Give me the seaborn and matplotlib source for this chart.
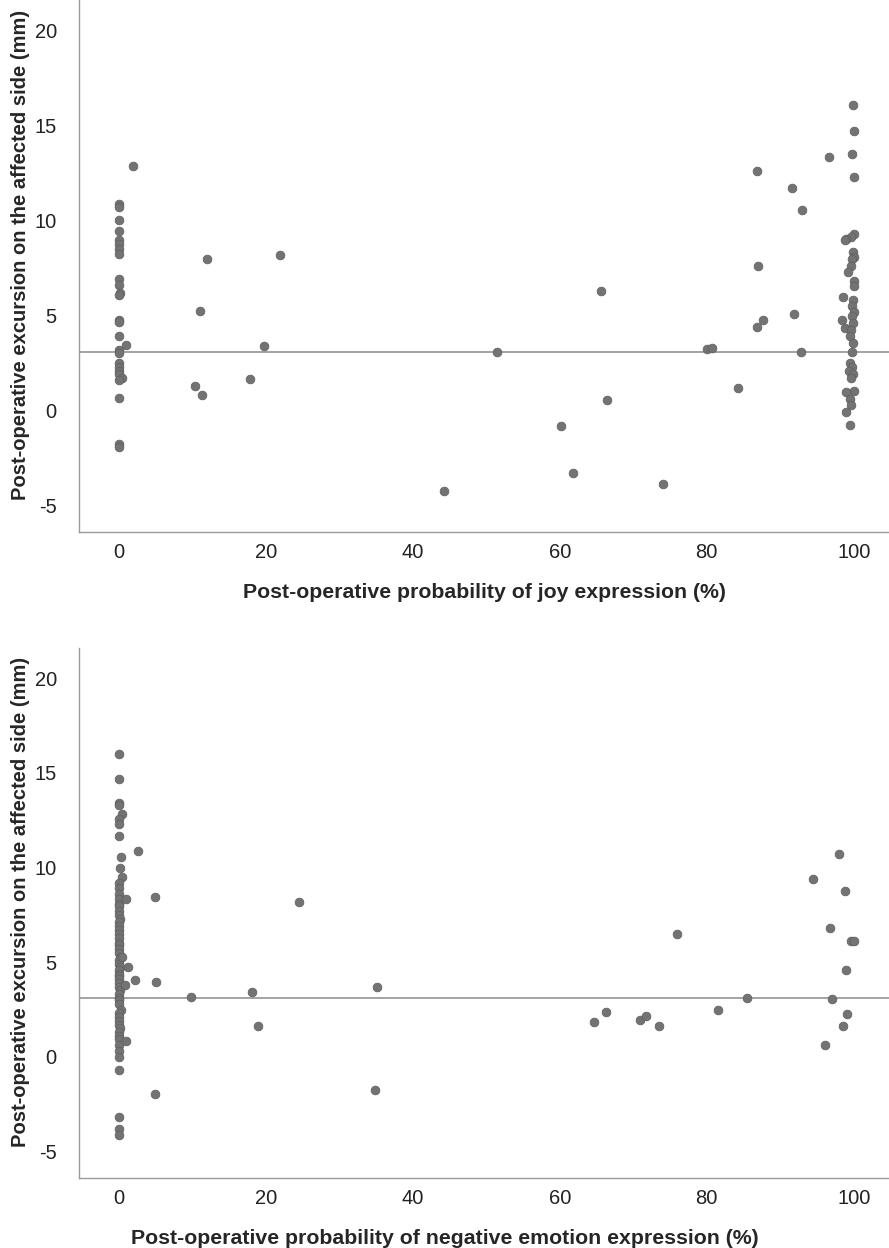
import pandas as pd
import matplotlib
matplotlib.use("Agg")
import matplotlib.pyplot as plt
import seaborn as sns

sns.set_style("white")
plt.rcParams['font.family'] = ['Liberation Sans', 'DejaVu Sans']
plt.rcParams['axes.unicode_minus'] = False

# Top panel: joy expression (%) vs excursion (mm)
joy_x = [0, 0, 0, 0, 0, 0, 0, 0, 0, 0, 0.2, 0, 0, 0, 0, 1.0, 0, 0, 0, 0, 0, 0, 0.5, 0, 0, 0.1, 0, 2.0,
         12.0, 11.0, 10.4, 11.3, 17.9, 19.7, 22.0, 44.3, 51.4, 65.6, 66.5, 60.2, 61.8, 74.1,
         80.0, 80.7, 84.2, 86.9, 87.0, 86.8, 87.7, 91.6, 93.0, 91.9, 92.8, 96.6,
         99.9, 100, 99.7, 100, 100, 99.6, 99.0, 98.8, 99.9, 100, 99.8, 99.6, 99.2, 100, 100,
         98.5, 99.9, 99.8, 100, 99.7, 98.4, 99.9, 98.8, 99.6, 99.5, 99.9, 99.8, 99.5, 99.7,
         99.4, 99.9, 99.6, 100, 98.9, 99.5, 99.6, 98.9, 99.5]
joy_y = [10.85, 10.7, 10.0, 9.45, 8.95, 8.75, 8.5, 8.25, 6.9, 6.6, 6.2, 6.05, 4.75, 4.65, 3.9, 3.45,
         3.2, 3.0, 2.5, 2.3, 2.1, 1.9, 1.7, 1.6, 0.65, -1.75, -1.95, 12.85,
         7.95, 5.25, 1.3, 0.8, 1.65, 3.4, 8.2, -4.25, 3.1, 6.3, 0.55, -0.8, -3.3, -3.85,
         3.25, 3.3, 1.2, 12.6, 7.6, 4.4, 4.75, 11.7, 10.55, 5.05, 3.1, 13.35,
         16.05, 14.7, 13.5, 12.3, 9.3, 9.15, 9.0, 8.95, 8.35, 8.1, 7.95, 7.6, 7.3, 6.8, 6.55,
         5.95, 5.8, 5.5, 5.2, 4.95, 4.75, 4.6, 4.35, 4.25, 3.9, 3.55, 3.05, 2.5, 2.3,
         2.1, 1.9, 1.7, 1.0, 0.95, 0.6, 0.3, -0.1, -0.75]

# Bottom panel: negative emotion expression (%) vs excursion (mm)
neg_x = [0, 0, 0, 0, 0.4, 0, 0, 0, 0.3, 0.2, 0.5, 0, 0, 0, 0.1, 0, 0, 0, 0, 0.2, 0, 0, 0, 0, 0.1,
         0, 0, 0, 0, 0.3, 0, 0, 0.2, 0, 0, 0.1, 0, 0, 0, 0.2, 0, 0, 0, 0, 0.3, 0, 0.1, 0, 0, 0.2,
         0, 0, 0, 0.1, 0, 0, 0, 0, 0, 0,
         2.6, 4.9, 0.95, 0.5, 1.3, 2.2, 5.1, 0.85, 9.9, 1.0, 5.0, 18.1, 19.0, 24.5, 35.1, 34.9,
         75.9, 85.5, 81.5, 66.3, 64.7, 70.9, 71.8, 73.5,
         98.0, 94.5, 98.8, 96.8, 99.6, 100.1, 98.9, 97.0, 99.1, 98.5, 96.1]
neg_y = [15.98, 14.67, 13.42, 13.3, 12.83, 12.55, 12.32, 11.68, 10.54, 9.96, 9.49, 9.2, 8.9, 8.6, 8.35,
         8.1, 7.95, 7.7, 7.5, 7.3, 7.1, 6.9, 6.7, 6.5, 6.3, 6.0, 5.9, 5.7, 5.5, 5.3, 5.1, 4.9, 4.75,
         4.6, 4.4, 4.25, 4.1, 3.9, 3.7, 3.55, 3.3, 3.1, 3.0, 2.8, 2.5, 2.3, 2.1, 1.9, 1.7, 1.5,
         1.3, 1.1, 0.95, 0.6, 0.3, 0.0, -0.7, -3.2, -3.8, -4.15,
         10.85, 8.45, 8.35, 5.3, 4.75, 4.05, 3.95, 3.8, 3.15, 0.85, -1.95, 3.45, 1.65, 8.2, 3.7, -1.75,
         6.5, 3.1, 2.45, 2.35, 1.85, 1.95, 2.15, 1.65,
         10.7, 9.4, 8.75, 6.8, 6.1, 6.1, 4.6, 3.05, 2.25, 1.65, 0.6]

ref_line = 3.1
y_label = "Post-operative excursion on the affected side (mm)"
x_labels = ["Post-operative probability of joy expression (%)",
            "Post-operative probability of negative emotion expression (%)"]

joy = pd.DataFrame({'x': joy_x, 'y': joy_y})
neg = pd.DataFrame({'x': neg_x, 'y': neg_y})

fig = plt.figure(figsize=(8.89, 12.48), dpi=100)
ax1 = fig.add_axes([0.0889, 0.5737, 0.9111, 0.4263])
ax2 = fig.add_axes([0.0889, 0.0561, 0.9111, 0.4247])

# bottom x label sits a bit left of centre in the original
label_x = [0.5, 0.452]

for ax, df, xl, lx in [(ax1, joy, x_labels[0], label_x[0]), (ax2, neg, x_labels[1], label_x[1])]:
    ax.axhline(ref_line, color='#8a8a8a', lw=1.1, zorder=1)
    sns.scatterplot(data=df, x='x', y='y', ax=ax, color='#737373', edgecolor='#5e5e5e',
                    linewidth=0.5, s=40, zorder=3, legend=False)
    ax.set_xlim(-5.4, 104.8)
    ax.set_ylim(-6.4, 21.6)
    ax.set_xticks([0, 20, 40, 60, 80, 100])
    ax.set_yticks([-5, 0, 5, 10, 15, 20])
    ax.tick_params(length=0, labelsize=14.5, colors='#222222')
    ax.tick_params(axis='x', pad=8)
    ax.tick_params(axis='y', pad=16)
    ax.set_xlabel(xl, fontsize=15.3, fontweight='bold')
    ax.set_ylabel(y_label, fontsize=14.5, fontweight='bold')
    ax.xaxis.set_label_coords(lx, -0.096)
    ax.yaxis.set_label_coords(-0.06, 0.52)
    for side in ['top', 'right']:
        ax.spines[side].set_visible(False)
    for side in ['left', 'bottom']:
        ax.spines[side].set_color('#9a9a9a')
        ax.spines[side].set_linewidth(1.0)

fig.savefig("out.png", dpi=100)
